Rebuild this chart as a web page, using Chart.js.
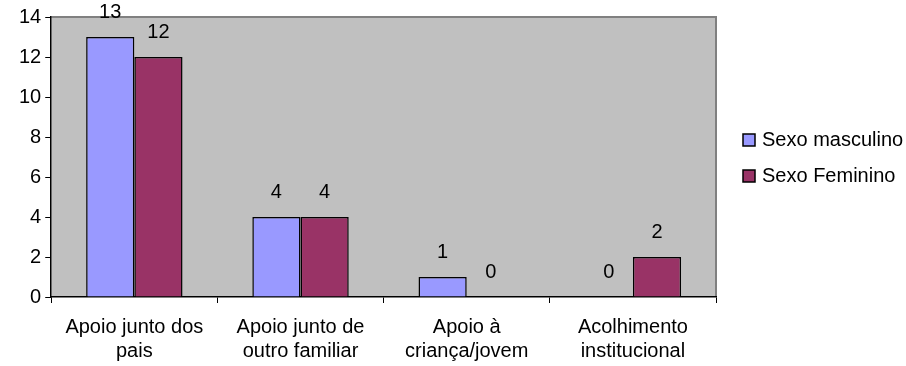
<!DOCTYPE html>
<html>
<head>
<meta charset="utf-8">
<script src="https://cdn.jsdelivr.net/npm/chart.js@4/dist/chart.umd.min.js"></script>
<style>
  html, body { margin: 0; padding: 0; background: #fff; }
  #wrap { width: 906px; height: 366px; }
</style>
</head>
<body>
<div id="wrap"><canvas id="canvas" width="906" height="366"></canvas></div>
<script>
const categories = [
    ['Apoio junto dos', 'pais'],
    ['Apoio junto de', 'outro familiar'],
    ['Apoio à', 'criança/jovem'],
    ['Acolhimento', 'institucional']
];
const seriesNames = ['Sexo masculino', 'Sexo Feminino'];
const masculino = [13, 4, 1, 0];
const feminino = [12, 4, 0, 2];
const yTicks = [0, 2, 4, 6, 8, 10, 12, 14];

const FONT = 'Arial, "Liberation Sans", sans-serif';
const FONT_SIZE = 20;

// gray plot background with darker top/right edge
const plotBackground = {
    id: 'plotBackground',
    beforeDraw(chart) {
        const a = chart.chartArea;
        const ctx = chart.ctx;
        ctx.save();
        ctx.fillStyle = '#c0c0c0';
        ctx.fillRect(a.left, a.top, a.right - a.left, a.bottom - a.top);
        ctx.strokeStyle = '#808080';
        ctx.lineWidth = 2;
        ctx.beginPath();
        ctx.moveTo(a.left, a.top);
        ctx.lineTo(a.right, a.top);
        ctx.lineTo(a.right, a.bottom);
        ctx.stroke();
        ctx.restore();
    }
};

// numbers above each bar
const valueLabels = {
    id: 'valueLabels',
    afterDatasetsDraw(chart) {
        const ctx = chart.ctx;
        ctx.save();
        ctx.fillStyle = '#000';
        ctx.font = FONT_SIZE + 'px ' + FONT;
        ctx.textAlign = 'center';
        ctx.textBaseline = 'middle';
        chart.data.datasets.forEach((ds, i) => {
            chart.getDatasetMeta(i).data.forEach((bar, j) => {
                ctx.fillText(String(ds.data[j]), bar.x, bar.y - 25);
            });
        });
        ctx.restore();
    }
};

// legend to the right of the plot, like the spreadsheet one
const sideLegend = {
    id: 'sideLegend',
    afterDraw(chart) {
        const ctx = chart.ctx;
        const x = chart.chartArea.right + 27;
        ctx.save();
        ctx.font = FONT_SIZE + 'px ' + FONT;
        ctx.textBaseline = 'middle';
        chart.data.datasets.forEach((ds, i) => {
            const cy = 140 + i * 36;
            ctx.fillStyle = ds.backgroundColor;
            ctx.fillRect(x, cy - 6, 12, 12);
            ctx.strokeStyle = '#000';
            ctx.lineWidth = 1.5;
            ctx.strokeRect(x, cy - 6, 12, 12);
            ctx.fillStyle = '#000';
            ctx.fillText(ds.label, x + 19, cy);
        });
        ctx.restore();
    }
};

const context = document.getElementById('canvas').getContext('2d');
new Chart(context, {
    type: 'bar',
    data: {
        labels: categories,
        datasets: [{
            label: seriesNames[0],
            data: masculino,
            backgroundColor: '#9999ff',
            borderColor: '#000',
            borderWidth: 1.5
        }, {
            label: seriesNames[1],
            data: feminino,
            backgroundColor: '#993366',
            borderColor: '#000',
            borderWidth: 1.5
        }]
    },
    options: {
        responsive: false,
        animation: false,
        events: [],
        layout: { padding: { top: 17, right: 190, left: 15, bottom: 0 } },
        datasets: { bar: { categoryPercentage: 0.58, barPercentage: 1 } },
        plugins: {
            tooltip: { enabled: false },
            legend: { display: false }
        },
        scales: {
            x: {
                afterFit(axis) {
                    axis.height = 69;
                },
                grid: {
                    offset: true,
                    drawOnChartArea: false,
                    drawTicks: true,
                    tickLength: 6,
                    color: '#000'
                },
                border: { color: '#000', width: 1.5 },
                ticks: {
                    font: { size: FONT_SIZE, family: FONT, lineHeight: 1.2 },
                    color: '#000',
                    maxRotation: 0,
                    padding: 12
                }
            },
            y: {
                min: 0,
                max: 14,
                afterBuildTicks(axis) {
                    axis.ticks = yTicks.map(v => ({ value: v }));
                },
                grid: {
                    drawOnChartArea: false,
                    drawTicks: true,
                    tickLength: 6,
                    color: '#000'
                },
                border: { color: '#000', width: 1.5 },
                ticks: {
                    font: { size: FONT_SIZE, family: FONT },
                    color: '#000',
                    padding: 4
                }
            }
        }
    },
    plugins: [plotBackground, valueLabels, sideLegend]
});
</script>
</body>
</html>
